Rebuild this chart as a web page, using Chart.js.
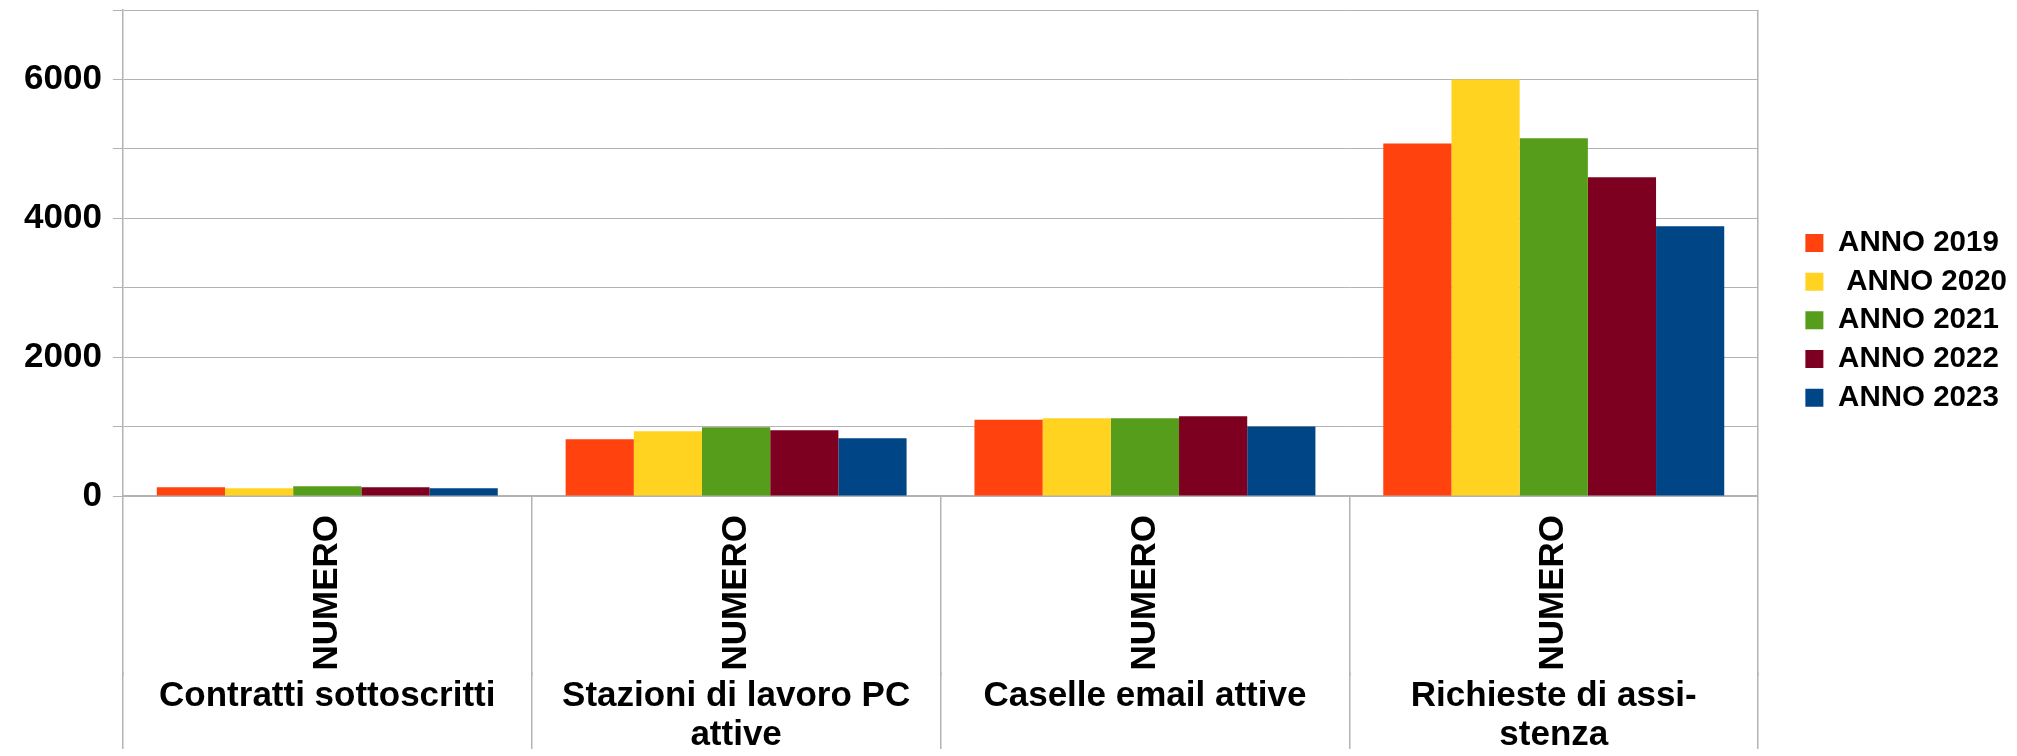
<!DOCTYPE html>
<html>
<head>
<meta charset="utf-8">
<script src="https://cdn.jsdelivr.net/npm/chart.js@4/dist/chart.umd.min.js"></script>
<style>
  body { margin: 0; background: #fff; }
  #wrap { width: 2017px; height: 756px; }
</style>
</head>
<body>
<div id="wrap"><canvas id="grafico" width="2017" height="756"></canvas></div>
<script>
const categorie = [['Contratti sottoscritti'], ['Stazioni di lavoro PC', 'attive'], ['Caselle email attive'], ['Richieste di assi-', 'stenza']];
const sottoEtichette = ['NUMERO', 'NUMERO', 'NUMERO', 'NUMERO'];
const anni = ['ANNO 2019', ' ANNO 2020', 'ANNO 2021', 'ANNO 2022', 'ANNO 2023'];
const colori = ['#ff420e', '#ffd320', '#579d1c', '#7e0021', '#004586'];
const anno2019 = [125, 817, 1100, 5077];
const anno2020 = [110, 933, 1120, 6000];
const anno2021 = [139, 990, 1120, 5154];
const anno2022 = [125, 947, 1150, 4592];
const anno2023 = [110, 832, 1000, 3886];
const tickY = [0, 2000, 4000, 6000];

const serie = [anno2019, anno2020, anno2021, anno2022, anno2023];
const grigio = '#b3b3b3';
const fam = '"Liberation Sans", Arial, sans-serif';

Chart.defaults.color = '#000';
Chart.defaults.font.family = fam;

const ctx = document.getElementById('grafico').getContext('2d');
new Chart(ctx, {
    type: 'bar',
    data: {
        labels: categorie,
        datasets: serie.map((valori, i) => ({
            label: anni[i],
            data: valori,
            backgroundColor: colori[i],
            borderWidth: 0,
            barPercentage: 1,
            categoryPercentage: 0.834
        }))
    },
    options: {
        responsive: false,
        animation: false,
        layout: { padding: { top: 10, left: 13, right: 0, bottom: 0 } },
        plugins: {
            tooltip: { enabled: false },
            legend: {
                position: 'right',
                align: 'start',
                // titolo vuoto solo per spostare la legenda in basso
                title: { display: true, text: ' ', font: { size: 10 }, padding: { top: 197, bottom: 0 } },
                labels: {
                    boxWidth: 18,
                    boxHeight: 18,
                    padding: 9.2,
                    color: '#000',
                    font: { size: 29.5, weight: 'bold', family: fam }
                }
            }
        },
        scales: {
            y: {
                min: 0,
                max: 7000,
                grid: { color: grigio, lineWidth: 1, tickLength: 10, tickColor: grigio },
                border: { display: true, color: grigio, width: 1.5 },
                ticks: {
                    stepSize: 1000,
                    padding: 11,
                    color: '#000',
                    font: c => ({ size: tickY.includes(c.tick && c.tick.value) ? 35 : 1, weight: 'bold', family: fam }),
                    callback: v => tickY.includes(v) ? String(v) : ''
                },
                afterFit: s => { s.paddingTop = 0; }
            },
            yr: {
                position: 'right',
                display: true,
                grid: { display: false },
                border: { display: false },
                ticks: { display: false },
                afterFit: s => { s.width = 38; }
            },
            x: {
                labels: sottoEtichette,
                offset: true,
                grid: {
                    offset: true,
                    color: c => c.type === 'scale' ? grigio : 'rgba(0,0,0,0)',
                    tickColor: grigio,
                    lineWidth: 1.5,
                    tickLength: 180
                },
                border: { display: true, color: grigio, width: 2 },
                ticks: {
                    minRotation: 90,
                    maxRotation: 90,
                    autoSkip: false,
                    padding: -161,
                    color: '#000',
                    font: { size: 35, weight: 'bold', family: fam }
                },
                afterFit: s => { s.height = 176; }
            },
            x2: {
                type: 'category',
                position: 'bottom',
                labels: categorie,
                offset: true,
                weight: 1,
                grid: {
                    offset: true,
                    drawOnChartArea: false,
                    tickColor: grigio,
                    lineWidth: 1.5,
                    tickLength: 77
                },
                border: { display: false },
                ticks: {
                    autoSkip: false,
                    maxRotation: 0,
                    padding: -72.5,
                    color: '#000',
                    font: { size: 35, weight: 'bold', family: fam, lineHeight: 39 / 35 }
                },
                afterFit: s => { s.height = 84; }
            }
        }
    }
});
</script>
</body>
</html>
